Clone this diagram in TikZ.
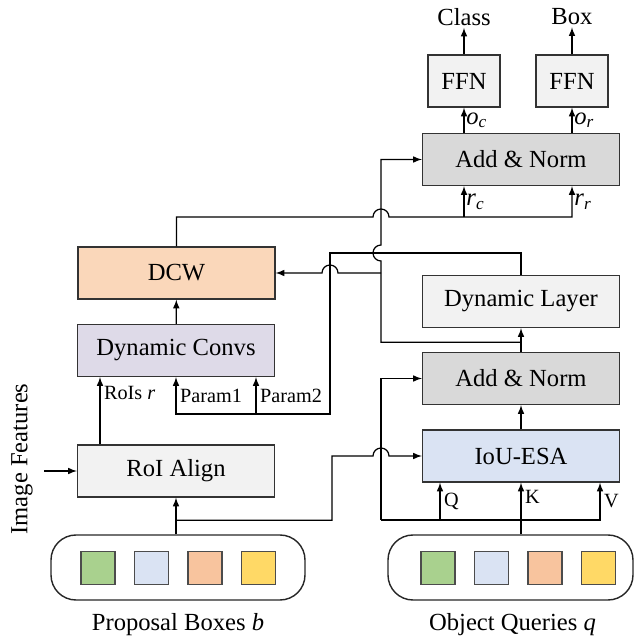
\documentclass[tikz,border=0pt]{standalone}
\usepackage{fontspec}
\setmainfont{Liberation Serif}
\usetikzlibrary{calc}
% cores das caixas
\definecolor{cinzaEscuro}{HTML}{D9D9D9}
\definecolor{cinzaClaro}{HTML}{F2F2F2}
\definecolor{azulClaro}{HTML}{DAE3F3}
\definecolor{lilas}{HTML}{DEDAE8}
\definecolor{pessego}{HTML}{FAD7BA}
\definecolor{verde}{HTML}{A9D18E}
\definecolor{laranja}{HTML}{F8C49E}
\definecolor{amarelo}{HTML}{FFD966}
% letra com indice (o_c, r_c ...)
\newcommand{\vsub}[2]{\textit{#1}\textsubscript{\textit{#2}}}
\begin{document}
\begin{tikzpicture}[font=\fontsize{14pt}{17pt}\selectfont]
%============================================================
%  Estilos das caixas, setas e grupos
%============================================================
\tikzset{ % sem linha em branco aqui!
    >=latex,
    arco/.style={ ->,          % seta no final
            line width=0.7pt
        },
    aresta/.style={ -,         % sem seta
            line width=0.7pt
        },
    caixa/.style={ rectangle,  % bloco da rede
            draw=black!80,
            line width=0.8pt,
            minimum width=3.94cm,
            minimum height=1.04cm,
            inner sep=0pt
        },
    caixaFFN/.style={ caixa,
            minimum width=1.44cm,
            fill=cinzaClaro
        },
    grupo/.style={ rectangle,  % caixa arredondada de entrada
            rounded corners=0.5cm,
            draw=black!85,
            line width=0.8pt,
            minimum height=1.3cm
        },
    quadrado/.style={ rectangle,
            draw=black!70,
            line width=0.6pt,
            minimum width=0.68cm,
            minimum height=0.66cm,
            inner sep=0pt
        },
    rotulo/.style={ font=\fontsize{11.5pt}{13pt}\selectfont,
            inner sep=2pt
        }
}
\useasboundingbox (0,0) rectangle (12.66,12.84);

   % --- ramo da direita (consultas) ------
   \node[caixaFFN] (ffnc) at (9.28,11.22) {FFN};
   \node[caixaFFN] (ffnr) at (11.44,11.22) {FFN};
   \node[inner sep=1pt] (classe) at (9.28,12.5) {Class};
   \node[inner sep=1pt] (caixaSaida) at (11.44,12.5) {Box};
   \node[caixa,fill=cinzaEscuro] (addtop) at (10.42,9.65) {Add \& Norm};
   \node[caixa,fill=cinzaClaro] (dynlayer) at (10.42,6.81) {Dynamic Layer};
   \node[caixa,fill=cinzaEscuro] (addlow) at (10.42,5.27) {Add \& Norm};
   \node[caixa,fill=azulClaro] (iouesa) at (10.42,3.72) {IoU-ESA};

   % --- ramo da esquerda (caixas) ------
   \node[caixa,fill=pessego] (dcw) at (3.53,7.38) {DCW};
   \node[caixa,fill=lilas] (dynconv) at (3.52,5.83) {Dynamic Convs};
   \node[caixa,fill=cinzaClaro] (roialign) at (3.52,3.42) {RoI Align};
   \node[rotate=90] (imgfeat) at (0.44,3.66) {Image Features};

   % --- entradas ------
   \node[grupo,minimum width=5.08cm] (propbox) at (3.56,1.49) {};
   \node[quadrado,fill=verde] (pb1) at (1.96,1.48) {};
   \node[quadrado,fill=azulClaro] (pb2) at (3.03,1.48) {};
   \node[quadrado,fill=laranja] (pb3) at (4.10,1.48) {};
   \node[quadrado,fill=amarelo] (pb4) at (5.17,1.48) {};
   \node (legP) at (3.56,0.34) {Proposal Boxes \textit{b}};

   \node[grupo,minimum width=4.9cm] (querybox) at (10.21,1.49) {};
   \node[quadrado,fill=verde] (oq1) at (8.76,1.48) {};
   \node[quadrado,fill=azulClaro] (oq2) at (9.83,1.48) {};
   \node[quadrado,fill=laranja] (oq3) at (10.90,1.48) {};
   \node[quadrado,fill=amarelo] (oq4) at (11.97,1.48) {};
   \node (legQ) at (10.25,0.34) {Object Queries \textit{q}};

   % pontos auxiliares das linhas
   \coordinate (eixo) at (7.62,6.0);
   \coordinate (linhaR) at (7.0,8.5);
   \coordinate (linhaQV) at (7.62,2.44);
   \coordinate (xQ) at (8.8,0);
   \coordinate (xV) at (12.0,0);
   \coordinate (p2) at (5.12,4.56);
   \coordinate (bifP) at ($(roialign.south |- propbox.north)+(0,0.28)$);
   \coordinate (ramo) at ($(addlow.north)!0.4!(dynlayer.south)$);

   % saidas
   \draw[arco] (ffnc) -- (classe);
   \draw[arco] (ffnr) -- (caixaSaida);
   \draw[arco] (ffnc.south |- addtop.north) -- (ffnc.south) node[midway,right,inner sep=1pt] {\vsub{o}{c}};
   \draw[arco] (ffnr.south |- addtop.north) -- (ffnr.south) node[midway,right,inner sep=1pt] {\vsub{o}{r}};

   % DCW -> r_c, r_r (com salto sobre o eixo)
   \draw[arco] (dcw.north) |- (7.46,8.5) arc[start angle=180,end angle=0,radius=0.16]
        -| (ffnr |- addtop.south) node[pos=0.75,right,inner sep=1pt] {\vsub{r}{r}};
   \draw[arco] (ffnc |- linhaR) -- (ffnc |- addtop.south) node[midway,right,inner sep=1pt] {\vsub{r}{c}};

   % Add & Norm -> Dynamic Layer, DCW e Add & Norm de cima
   \draw[arco] (addlow.north) -- (dynlayer.south);
   \draw[arco] (ramo) -| (7.62,7.62) arc[start angle=270,end angle=90,radius=0.16] |- (addtop.west);
   \draw[arco] (eixo |- dcw.east) -- (6.76,7.38) arc[start angle=0,end angle=180,radius=0.16] -- (dcw.east);

   % Dynamic Layer -> parametros
   \draw[arco] (dynlayer.north) |- (6.6,7.78) -- (6.6,4.56) -| node[pos=0.75,right,rotulo] {Param1} (dynconv.south);
   \draw[arco] (p2) -- (p2 |- dynconv.south) node[midway,right,rotulo] {Param2};
   \draw[arco] (dynconv) -- (dcw);

   % RoI Align
   \draw[arco] ([xshift=-1.52cm]roialign.north) -- ([xshift=-1.52cm]dynconv.south) node[pos=0.76,right,rotulo] {RoIs \textit{r}};
   \draw[arco] ([xshift=3pt]imgfeat.south |- roialign.west) -- (roialign.west);
   \draw[arco] (roialign.south |- propbox.north) -- (roialign.south);
   \draw[arco] (bifP) -| (6.64,3.72) -- (7.46,3.72) arc[start angle=180,end angle=0,radius=0.16] -- (iouesa.west);

   % consultas -> Q, K, V
   \draw[arco] (iouesa.south |- querybox.north) -- (iouesa.south) node[pos=0.72,right,rotulo] {K};
   \draw[arco] (linhaQV) |- (addlow.west);
   \draw[arco] (linhaQV) -| (xV |- iouesa.south) node[pos=0.75,right,rotulo] {V};
   \draw[arco] (linhaQV -| xQ) -- (xQ |- iouesa.south) node[midway,right,rotulo] {Q};
   \draw[arco] (iouesa) -- (addlow);
\end{tikzpicture}
\end{document}
